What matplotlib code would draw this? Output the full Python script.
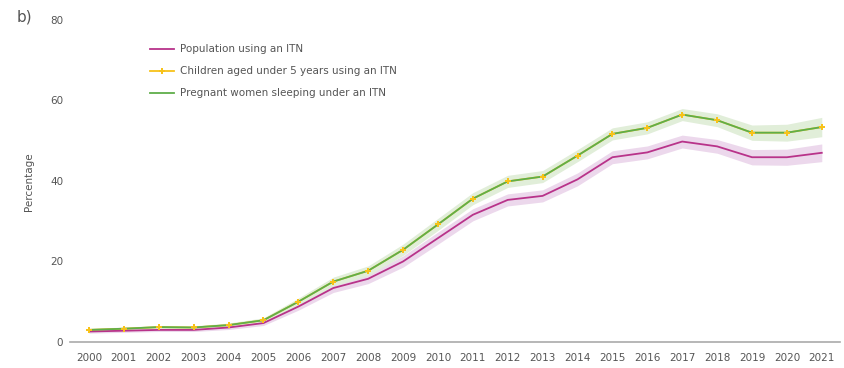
import numpy as np
import matplotlib
matplotlib.use("Agg")
import matplotlib.pyplot as plt

# values
years = np.arange(2000, 2022)
population = [2.6, 2.8, 3.0, 3.0, 3.6, 4.7, 8.8, 13.4, 15.7, 20.0, 25.8, 31.6,
              35.3, 36.3, 40.4, 45.9, 47.1, 49.8, 48.6, 45.9, 45.9, 47.0]
pop_err = [0.4, 0.4, 0.4, 0.4, 0.5, 0.6, 0.9, 1.1, 1.2, 1.4, 1.5, 1.5,
           1.5, 1.5, 1.6, 1.6, 1.6, 1.6, 1.7, 1.9, 2.0, 2.2]
children = [3.0, 3.3, 3.7, 3.6, 4.2, 5.4, 10.0, 15.0, 17.7, 22.9, 29.2, 35.6,
            39.9, 41.1, 46.3, 51.7, 53.2, 56.5, 55.1, 52.0, 52.0, 53.4]
pregnant = [3.0, 3.3, 3.7, 3.6, 4.2, 5.4, 10.0, 15.0, 17.7, 22.9, 29.2, 35.6,
            39.9, 41.1, 46.3, 51.7, 53.2, 56.5, 55.1, 52.0, 52.0, 53.4]
preg_err = [0.4, 0.4, 0.4, 0.4, 0.5, 0.6, 0.9, 1.1, 1.2, 1.4, 1.5, 1.5,
            1.5, 1.5, 1.5, 1.5, 1.5, 1.5, 1.6, 1.9, 2.1, 2.4]

pink = "#b8338a"
green = "#5fae4a"
yellow = "#f7c21a"
grey = "#555555"

fig = plt.figure(figsize=(8.45, 3.68), dpi=100)
ax = fig.add_axes([0.083, 0.0707, 0.911, 0.875])

pop = np.array(population)
pe = np.array(pop_err)
pr = np.array(pregnant)
ge = np.array(preg_err)

ax.fill_between(years, pop - pe, pop + pe, color="#ecd8ec", lw=0, zorder=1)
ax.fill_between(years, pr - ge, pr + ge, color="#e1eed9", lw=0, zorder=1)

ax.plot(years, population, color=pink, lw=1.3, zorder=3, label="Population using an ITN")
ax.plot(years, children, color=yellow, lw=1.3, marker="P", ms=4, mew=0, zorder=2,
        label="Children aged under 5 years using an ITN")
ax.plot(years, pregnant, color=green, lw=1.3, zorder=3, label="Pregnant women sleeping under an ITN")
ax.plot(years, children, ls="none", marker="P", ms=4, mew=0, color=yellow, zorder=4)

ax.set_xlim(1999.46, 2021.52)
ax.set_ylim(0, 80)
ax.set_xticks(years)
ax.set_xticklabels([str(y) for y in years])
ax.set_yticks([0, 20, 40, 60, 80])
ax.tick_params(length=0, labelsize=7.5, colors=grey)
ax.tick_params(axis="x", pad=8)
ax.tick_params(axis="y", pad=5)
for s in ["top", "right", "left"]:
    ax.spines[s].set_visible(False)
ax.spines["bottom"].set_color("#aaaaaa")
ax.spines["bottom"].set_linewidth(1.2)

fig.text(0.034, 0.505, "Percentage", rotation=90, fontsize=7.5, color=grey, ha="center", va="center")
fig.text(0.02, 0.955, "b)", fontsize=11, color=grey, ha="left", va="center")

ax.legend(loc="upper left", bbox_to_anchor=(0.166, 0.905), bbox_transform=fig.transFigure,
          frameon=False, fontsize=7.5, handlelength=2.3, labelspacing=1.15,
          handletextpad=0.6, labelcolor=grey)

fig.savefig("out.png", dpi=100)
